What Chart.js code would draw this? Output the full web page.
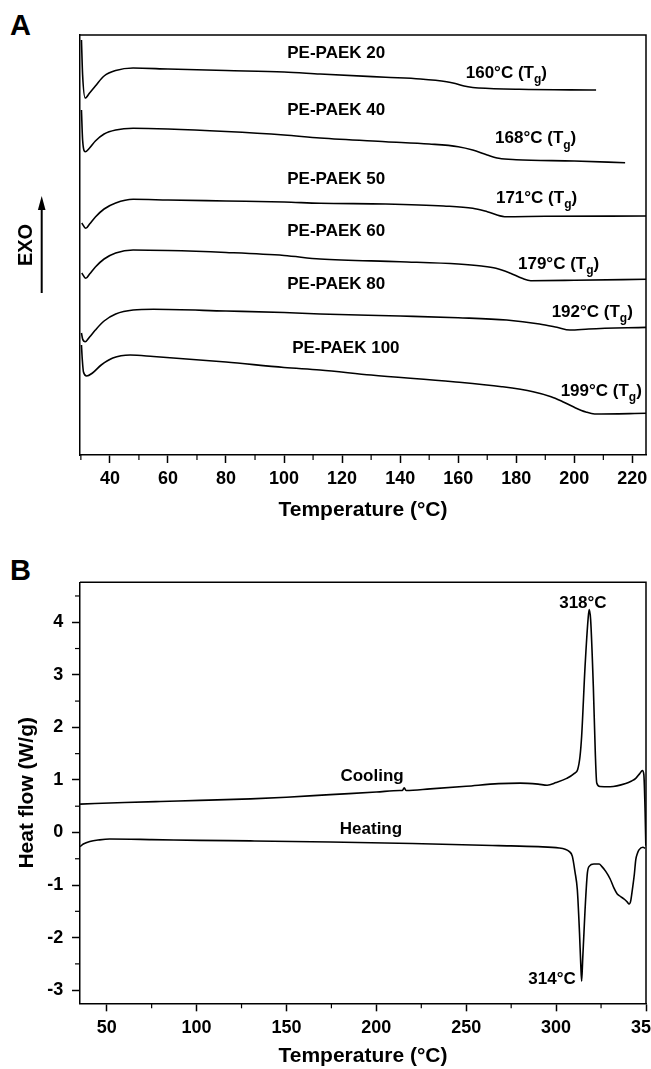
<!DOCTYPE html>
<html>
<head>
<meta charset="utf-8">
<script src="https://cdn.jsdelivr.net/npm/chart.js@4.4.0/dist/chart.umd.min.js"></script>
<style>
  html, body { margin: 0; padding: 0; background: #fff; overflow: hidden; width: 651px; height: 1069px; }
  canvas { position: absolute; left: 0; }
  .letter { position: absolute; font: bold 29px "Liberation Sans", Arial, sans-serif; line-height: 1; color: #000; }
</style>
</head>
<body>
<div class="letter" style="left:10px; top:11px;">A</div>
<div class="letter" style="left:10px; top:556px;">B</div>
<canvas id="chartA" style="top:0" width="700" height="525"></canvas>
<canvas id="chartB" style="top:525px" width="700" height="544"></canvas>
<script>
const FONT = '"Liberation Sans", Arial, Helvetica, sans-serif';

// ---- panel A : DSC heating scans, [temperature °C, offset heat flow (arb.)]
const paek20 = [[30.2,41.5],[30.6,38],[31.5,35.7],[33,36.2],[35,36.9],[38,37.9],[42,38.45],[48,38.7],[60,38.6],[80,38.45],[100,38.3],[112.4,38.1],[135,37.77],[147,37.6],[156,37.33],[159,37.15],[162,36.9],[165,36.75],[167,36.7],[181,36.57],[207.5,36.5]];
const paek40 = [[30.2,34.5],[30.6,31.5],[31.5,30.33],[33,30.7],[35,31.4],[38,32.1],[42,32.5],[48,32.67],[60,32.6],[80,32.35],[100,32.0],[112.4,31.7],[135,31.33],[150,31.1],[160,30.83],[165,30.5],[170,30.0],[174,29.67],[180,29.53],[200,29.4],[217.5,29.23]];
const paek50 = [[30.3,23.2],[31.7,22.67],[33,23.1],[35,23.8],[38,24.6],[42,25.2],[48,25.57],[60,25.5],[80,25.4],[100,25.3],[112.4,25.17],[135,25.1],[155,24.9],[165,24.67],[170,24.33],[176,23.83],[190,23.87],[225,23.9]];
const paek60 = [[30.3,18.2],[31.7,17.67],[33,18.1],[35,18.8],[38,19.6],[42,20.2],[48,20.5],[60,20.45],[80,20.25],[100,19.95],[112.4,19.6],[140,19.33],[160,19.1],[168,18.9],[173,18.67],[178,18.17],[182,17.67],[185,17.43],[200,17.47],[225,17.57]];
const paek80 = [[30.2,12.2],[30.6,11.6],[31.5,11.33],[33,11.8],[35,12.5],[38,13.4],[42,14.1],[48,14.5],[55,14.57],[80,14.4],[100,14.25],[112.4,14.1],[140,13.9],[160,13.73],[176.7,13.5],[188,13.1],[194,12.77],[198.5,12.5],[205,12.6],[225,12.77]];
const paek100 = [[30.2,11.0],[30.5,9.5],[30.9,8.3],[32,7.9],[34,8.2],[37,9.0],[41,9.7],[47,10.0],[55,9.85],[80,9.3],[100,8.75],[112.4,8.5],[130,8.0],[158.3,7.33],[175,6.83],[185.8,6.33],[192,5.83],[196,5.33],[200,4.77],[204,4.3],[207,4.1],[225,4.17]];

const sampleNames = ['PE-PAEK 20', 'PE-PAEK 40', 'PE-PAEK 50', 'PE-PAEK 60', 'PE-PAEK 80', 'PE-PAEK 100'];
const tgValues = [160, 168, 171, 179, 192, 199];
const xTicksA = [40, 60, 80, 100, 120, 140, 160, 180, 200, 220];
const xMinorA = [30, 50, 70, 90, 110, 130, 150, 170, 190, 210];

// ---- panel B : cooling and heating of PE-PAEK, [temperature °C, W/g]
const cooling = [[35.2,0.54],[60,0.57],[80,0.59],[101.7,0.61],[130,0.64],[150,0.67],[174.4,0.72],[200,0.77],[213,0.8],[214.5,0.8],[215.5,0.85],[216.5,0.8],[230,0.83],[250,0.88],[268,0.93],[280,0.94],[290,0.92],[295,0.9],[300,0.95],[305.9,1.03],[310,1.12],[312,1.2],[313.3,1.45],[314.2,1.83],[316.1,3.16],[317.9,4.11],[318.4,4.24],[319.2,4.05],[320.7,2.78],[321.8,1.51],[322.6,0.94],[324.4,0.875],[330,0.87],[338.7,0.93],[342,0.98],[344.3,1.03],[346.5,1.12],[348,1.18],[348.8,1.1],[349.5,0.4],[349.9,-0.25]];
const heating = [[35.2,-0.27],[37,-0.22],[40.6,-0.17],[46,-0.14],[51.7,-0.125],[75,-0.135],[101.7,-0.15],[130,-0.16],[174.4,-0.18],[220,-0.21],[268,-0.25],[290,-0.27],[301.7,-0.296],[305,-0.32],[307.2,-0.36],[309,-0.45],[310.5,-0.75],[311.8,-1.09],[313,-1.9],[313.7,-2.5],[314.2,-2.83],[314.8,-2.4],[315.5,-1.9],[316.1,-1.47],[317.4,-0.77],[318.5,-0.64],[321,-0.6],[323.9,-0.6],[325.5,-0.65],[327.6,-0.74],[330,-0.88],[332.2,-1.06],[334,-1.17],[335.9,-1.22],[338.3,-1.28],[339.5,-1.32],[340.6,-1.36],[341.5,-1.3],[342.4,-1.09],[343.5,-0.8],[344.3,-0.52],[345.2,-0.4],[346.1,-0.33],[348.3,-0.28],[349.5,-0.3]];
const peakLabels = ['318°C', '314°C'];
const runNames = ['Cooling', 'Heating'];
const xTicksB = [50, 100, 150, 200, 250, 300, 350];
const xMinorB = [75, 125, 175, 225, 275, 325];
const yTicksB = [-3, -2, -1, 0, 1, 2, 3, 4];
const yMinorB = [-2.5, -1.5, -0.5, 0.5, 1.5, 2.5, 3.5, 4.5];

// label anchors (data coordinates)
const nameAnchorsA = [[101.1,40.33],[101.1,34.6],[101.1,27.75],[101.1,22.5],[101.1,17.2],[102.8,10.83]];
const tgAnchorsA = [[162.6,38.33],[172.7,31.77],[173.0,25.83],[180.6,19.23],[192.2,14.43],[195.3,6.5]];
const labelAnchorsB = [[314.9,4.39],[297.7,-2.77],[197.6,1.10],[197.0,0.084]];

const toXY = pts => pts.map(([x, y]) => ({ x, y }));

function drawRich(ctx, parts, x, yMid, align, size) {
  const big = `bold ${size}px ${FONT}`;
  const small = `bold ${Math.round(size * 0.68)}px ${FONT}`;
  let w = 0;
  parts.forEach(p => { ctx.font = p.sub ? small : big; w += ctx.measureText(p.t).width; });
  let cx = align === 'center' ? x - w / 2 : x;
  const base = yMid + size * 0.36;
  ctx.textBaseline = 'alphabetic';
  ctx.textAlign = 'left';
  parts.forEach(p => {
    ctx.font = p.sub ? small : big;
    ctx.fillText(p.t, cx, base + (p.sub ? size * 0.3 : 0));
    cx += ctx.measureText(p.t).width;
  });
}

const decor = {
  id: 'decor',
  afterDraw(chart, args, opts) {
    const { ctx, chartArea: a, scales } = chart;
    ctx.save();
    ctx.strokeStyle = '#000';
    ctx.fillStyle = '#000';
    ctx.lineWidth = 1.5;
    ctx.beginPath();
    ctx.moveTo(a.left, a.top);
    ctx.lineTo(a.right, a.top);
    ctx.lineTo(a.right, a.bottom);
    ctx.stroke();

    // minor ticks, only the ones inside the axis range
    ctx.lineWidth = 1.2;
    (opts.minorX || []).forEach(v => {
      const px = scales.x.getPixelForValue(v);
      if (px < a.left - 1 || px > a.right + 1) return;
      ctx.beginPath(); ctx.moveTo(px, a.bottom); ctx.lineTo(px, a.bottom + 5); ctx.stroke();
    });
    (opts.minorY || []).forEach(v => {
      const py = scales.y.getPixelForValue(v);
      if (py < a.top - 1 || py > a.bottom + 1) return;
      ctx.beginPath(); ctx.moveTo(a.left, py); ctx.lineTo(a.left - 5, py); ctx.stroke();
    });

    if (opts.arrow) {
      const ax = 41.7, mid = (a.top + a.bottom) / 2;
      ctx.lineWidth = 2;
      ctx.beginPath(); ctx.moveTo(ax, mid + 48); ctx.lineTo(ax, mid - 38); ctx.stroke();
      ctx.beginPath();
      ctx.moveTo(ax, mid - 49); ctx.lineTo(ax - 3.8, mid - 35); ctx.lineTo(ax + 3.8, mid - 35);
      ctx.closePath(); ctx.fill();
    }

    (opts.labels || []).forEach(l => {
      drawRich(ctx, l.parts, scales.x.getPixelForValue(l.at[0]), scales.y.getPixelForValue(l.at[1]), l.align, 17);
    });
    ctx.restore();
  }
};

function lineSet(pts) {
  return {
    data: toXY(pts),
    borderColor: '#000',
    borderWidth: 1.6,
    pointRadius: 0,
    fill: false,
    cubicInterpolationMode: 'monotone'
  };
}

const axisBorder = { display: true, color: '#000', width: 1.5 };
const tickGrid = { display: true, drawOnChartArea: false, drawTicks: true, tickLength: 8, tickColor: '#000', tickWidth: 1.5 };

const labelsA = [];
sampleNames.forEach((n, i) => labelsA.push({ parts: [{ t: n }], at: nameAnchorsA[i], align: 'left' }));
tgValues.forEach((tg, i) => labelsA.push({
  parts: [{ t: tg + '°C (T' }, { t: 'g', sub: true }, { t: ')' }], at: tgAnchorsA[i], align: 'left'
}));

new Chart(document.getElementById('chartA'), {
  type: 'line',
  data: { datasets: [paek20, paek40, paek50, paek60, paek80, paek100].map(lineSet) },
  options: {
    responsive: false,
    animation: false,
    devicePixelRatio: 1,
    layout: { padding: { left: 0, top: 35, right: 54, bottom: 0 } },
    plugins: {
      legend: { display: false },
      tooltip: { enabled: false },
      decor: { minorX: xMinorA, arrow: true, labels: labelsA }
    },
    scales: {
      x: {
        type: 'linear', min: 29.7, max: 224.7,
        afterBuildTicks: s => { s.ticks = xTicksA.map(v => ({ value: v })); },
        ticks: { font: { family: FONT, size: 18, weight: 'bold' }, color: '#000', padding: 5, maxRotation: 0 },
        grid: tickGrid,
        border: axisBorder,
        title: { display: true, text: 'Temperature (°C)', color: '#000', font: { family: FONT, size: 21, weight: 'bold' }, padding: { top: 0, bottom: 2.4 } },
        afterFit: s => { s.height = 70; }
      },
      y: {
        type: 'linear', min: 0, max: 42,
        ticks: { display: false },
        grid: { display: false },
        border: axisBorder,
        title: { display: true, text: 'EXO', color: '#000', font: { family: FONT, size: 20, weight: 'bold' }, padding: { top: 14, bottom: 0 } },
        afterFit: s => { s.width = 80; }
      }
    }
  },
  plugins: [decor]
});

const labelsB = [
  { parts: [{ t: peakLabels[0] }], at: labelAnchorsB[0], align: 'center' },
  { parts: [{ t: peakLabels[1] }], at: labelAnchorsB[1], align: 'center' },
  { parts: [{ t: runNames[0] }], at: labelAnchorsB[2], align: 'center' },
  { parts: [{ t: runNames[1] }], at: labelAnchorsB[3], align: 'center' }
];

new Chart(document.getElementById('chartB'), {
  type: 'line',
  data: { datasets: [cooling, heating].map(lineSet) },
  options: {
    responsive: false,
    animation: false,
    devicePixelRatio: 1,
    layout: { padding: { left: 0, top: 57.3, right: 54, bottom: 0 } },
    plugins: {
      legend: { display: false },
      tooltip: { enabled: false },
      decor: { minorX: xMinorB, minorY: yMinorB, labels: labelsB }
    },
    scales: {
      x: {
        type: 'linear', min: 35.15, max: 350,
        afterBuildTicks: s => { s.ticks = xTicksB.map(v => ({ value: v })); },
        ticks: { font: { family: FONT, size: 18, weight: 'bold' }, color: '#000', padding: 6.2, maxRotation: 0 },
        grid: tickGrid,
        border: axisBorder,
        title: { display: true, text: 'Temperature (°C)', color: '#000', font: { family: FONT, size: 21, weight: 'bold' }, padding: { top: 0, bottom: 0 } },
        afterFit: s => { s.height = 65.7; }
      },
      y: {
        type: 'linear', min: -3.25, max: 4.76,
        afterBuildTicks: s => { s.ticks = yTicksB.map(v => ({ value: v })); },
        ticks: { font: { family: FONT, size: 18, weight: 'bold' }, color: '#000', padding: 8.7 },
        grid: tickGrid,
        border: axisBorder,
        title: { display: true, text: 'Heat flow (W/g)', color: '#000', font: { family: FONT, size: 21, weight: 'bold' }, padding: { top: 15, bottom: 0 } },
        afterFit: s => { s.width = 80; }
      }
    }
  },
  plugins: [decor]
});
</script>
</body>
</html>
